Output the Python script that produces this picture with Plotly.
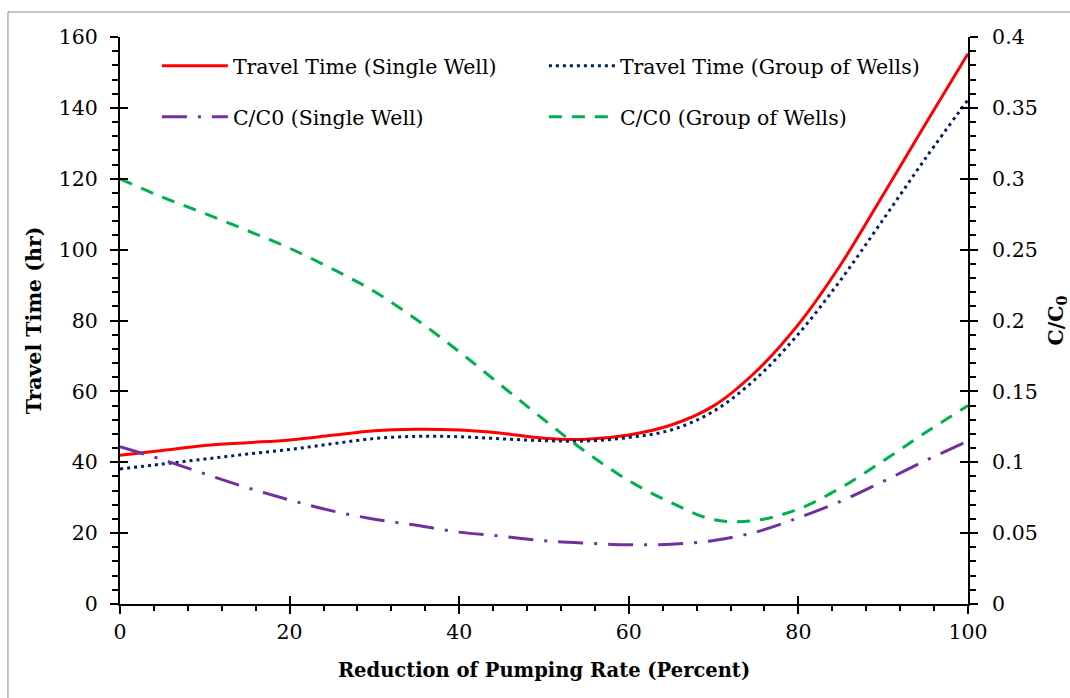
import plotly.graph_objects as go

reduction = [0, 5, 10, 15, 20, 25, 30, 35, 40, 45, 50, 55, 60, 65, 70, 75, 80, 85, 90, 95, 100]
tt_single = [42.0, 43.3, 44.7, 45.5, 46.3, 47.6, 48.9, 49.3, 49.1, 48.2, 46.8, 46.5, 47.7, 50.5, 55.9, 65.6, 78.9, 95.8, 115.5, 135.5, 155.3]
tt_group = [38.1, 39.5, 40.9, 42.3, 43.6, 45.2, 46.7, 47.3, 47.2, 46.6, 46.1, 46.0, 47.0, 49.1, 54.4, 63.6, 76.2, 91.5, 108.5, 125.8, 142.3]
cc_single = [0.1109, 0.1018, 0.0918, 0.0821, 0.0734, 0.0657, 0.0598, 0.0555, 0.0507, 0.0478, 0.0446, 0.0429, 0.0418, 0.0422, 0.0448, 0.0508, 0.0608, 0.0725, 0.0865, 0.1012, 0.1150]
cc_group = [0.300, 0.287, 0.2755, 0.2635, 0.251, 0.2365, 0.2205, 0.2005, 0.178, 0.154, 0.130, 0.107, 0.087, 0.0715, 0.0595, 0.059, 0.067, 0.082, 0.101, 0.121, 0.140]

names = ["Travel Time (Single Well)", "Travel Time (Group of Wells)",
         "C/C0 (Single Well)", "C/C0 (Group of Wells)"]

FONT = "DejaVu Serif"

fig = go.Figure()
fig.add_trace(go.Scatter(x=reduction, y=tt_single, name=names[0], mode="lines",
                         line=dict(color="#ff0000", width=3, shape="spline"), legend="legend"))
fig.add_trace(go.Scatter(x=reduction, y=tt_group, name=names[1], mode="lines",
                         line=dict(color="#002060", width=3, dash="3px,4px", shape="spline"), legend="legend"))
fig.add_trace(go.Scatter(x=reduction, y=cc_single, name=names[2], mode="lines", yaxis="y2",
                         line=dict(color="#7030a0", width=3, dash="25px,11px,3px,11px", shape="spline"), legend="legend2"))
fig.add_trace(go.Scatter(x=reduction, y=cc_group, name=names[3], mode="lines", yaxis="y2",
                         line=dict(color="#00b050", width=3, dash="13px,10px", shape="spline"), legend="legend2"))

# helper traces for the inner halves of major ticks
for xa, ya in [("x2", "y"), ("x", "y3"), ("x", "y4")]:
    fig.add_trace(go.Scatter(x=[None], y=[None], xaxis=xa, yaxis=ya, showlegend=False, hoverinfo="skip"))

tickfont = dict(family=FONT, size=20.5, color="black")
titlefont = dict(family=FONT, size=20.5, color="black", weight="bold")
xtitlefont = dict(family=FONT, size=19.5, color="black", weight="bold")
legfont = dict(family=FONT, size=20.5, color="black")

fig.update_layout(
    width=1070, height=698,
    margin=dict(l=120, r=102, t=37, b=94, autoexpand=False),
    paper_bgcolor="white", plot_bgcolor="white",
    font=dict(family=FONT, color="black"),
    xaxis=dict(range=[0, 100], dtick=20, tick0=0, ticks="outside", ticklen=8, tickwidth=2,
               showline=True, linewidth=2, linecolor="black", showgrid=False, zeroline=False,
               minor=dict(dtick=4, ticks="outside", ticklen=5, tickwidth=2, tickcolor="black"),
               tickfont=tickfont, tickcolor="black", automargin=False,
               title=dict(text="Reduction of Pumping Rate (Percent)", font=xtitlefont, standoff=21)),
    yaxis=dict(range=[0, 160], dtick=20, tick0=0, ticks="outside", ticklen=8, tickwidth=2,
               showline=True, linewidth=2, linecolor="black", showgrid=False, zeroline=False,
               minor=dict(dtick=4, ticks="outside", ticklen=6, tickwidth=2, tickcolor="black"),
               tickfont=tickfont, tickcolor="black", ticklabelstandoff=8, automargin=False,
               title=dict(text="Travel Time (hr)", font=titlefont, standoff=12)),
    yaxis2=dict(range=[0, 0.4], dtick=0.05, tick0=0, overlaying="y", side="right", anchor="x",
                ticks="outside", ticklen=8, tickwidth=2,
                showline=True, linewidth=2, linecolor="black", showgrid=False, zeroline=False,
                minor=dict(dtick=0.01, ticks="outside", ticklen=6, tickwidth=2, tickcolor="black"),
                tickfont=tickfont, tickcolor="black", ticklabelstandoff=10, automargin=False,
                title=dict(text="C/C<sub>0</sub>", font=titlefont, standoff=16)),
    xaxis2=dict(range=[0, 100], dtick=20, tick0=0, overlaying="x", anchor="y", side="bottom",
                ticks="inside", ticklen=8, tickwidth=2, tickcolor="black", automargin=False,
                showticklabels=False, showline=False, showgrid=False, zeroline=False),
    yaxis3=dict(range=[0, 160], dtick=20, tick0=0, overlaying="y", anchor="x", side="left",
                ticks="inside", ticklen=8, tickwidth=2, tickcolor="black", automargin=False,
                showticklabels=False, showline=False, showgrid=False, zeroline=False),
    yaxis4=dict(range=[0, 0.4], dtick=0.05, tick0=0, overlaying="y", anchor="x", side="right",
                ticks="inside", ticklen=8, tickwidth=2, tickcolor="black", automargin=False,
                showticklabels=False, showline=False, showgrid=False, zeroline=False),
    legend=dict(orientation="h", x=0.0435, y=0.949, xanchor="left", yanchor="middle",
                entrywidth=306, entrywidthmode="pixels", itemwidth=66,
                bgcolor="rgba(0,0,0,0)", font=legfont),
    legend2=dict(orientation="h", x=0.0435, y=0.859, xanchor="left", yanchor="middle",
                 entrywidth=306, entrywidthmode="pixels", itemwidth=66,
                 bgcolor="rgba(0,0,0,0)", font=legfont),
    shapes=[dict(type="rect", xref="paper", yref="paper",
                 x0=-0.1321, x1=1.13, y0=-0.18, y1=1.0441,
                 line=dict(color="#8c8c8c", width=1), fillcolor="rgba(0,0,0,0)", layer="below")],
    showlegend=True,
)

fig.write_html("out.html")
